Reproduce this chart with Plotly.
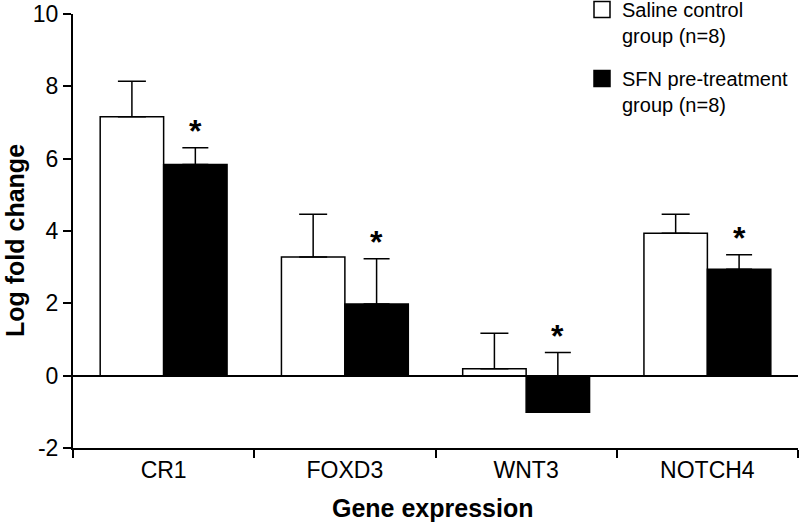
import plotly.graph_objects as go

genes = ["CR1", "FOXD3", "WNT3", "NOTCH4"]
saline_mean = [7.16, 3.28, 0.19, 3.94]
saline_err = [0.98, 1.18, 0.98, 0.52]
sfn_mean = [5.84, 1.98, -1.01, 2.94]
sfn_err = [0.46, 1.25, 1.65, 0.40]
sfn_signif = [True, True, True, True]
y_tickvals = [-2, 0, 2, 4, 6, 8, 10]
y_ticktext = ["-2", "0", "2", "4", "6", "8", "10"]

FONT = "Arial, Liberation Sans, sans-serif"
W, H = 800, 522
ML, MR, MT, MB = 73, 2, 14, 74
PW, PH = W - ML - MR, H - MT - MB

fig = go.Figure()
fig.add_trace(go.Bar(
    x=genes, y=saline_mean, name="Saline control<br>group (n=8)", showlegend=False,
    marker=dict(color="white", line=dict(color="black", width=1.5)),
    error_y=dict(type="data", array=saline_err, arrayminus=[0]*4, symmetric=False,
                 color="black", thickness=1.5, width=14),
))
fig.add_trace(go.Bar(
    x=genes, y=sfn_mean, name="SFN pre-treatment<br>group (n=8)", showlegend=False,
    marker=dict(color="black", line=dict(color="black", width=1.5)),
    error_y=dict(type="data", array=sfn_err, arrayminus=[0]*4, symmetric=False,
                 color="black", thickness=1.5, width=13),
))
# legend entries
fig.add_trace(go.Scatter(x=[None], y=[None], mode="markers", name="Saline control<br>group (n=8)",
                         legendgroup="a",
                         marker=dict(symbol="square", size=16, color="white", line=dict(color="black", width=1.5))))
fig.add_trace(go.Scatter(x=[None], y=[None], mode="markers", name="SFN pre-treatment<br>group (n=8)",
                         legendgroup="b",
                         marker=dict(symbol="square", size=16, color="black", line=dict(color="black", width=1.5))))

bar_px = PW / 4 * 0.7 / 2
for g, m, e, s in zip(genes, sfn_mean, sfn_err, sfn_signif):
    if s:
        fig.add_annotation(x=g, y=m + e, xref="x", yref="y", text="<b>*</b>", showarrow=False,
                           xshift=bar_px / 2, yshift=-3, yanchor="bottom",
                           font=dict(size=32, color="black", family=FONT))

# axis titles
fig.add_annotation(x=(15 - ML) / PW, y=(H - MB - 241) / PH, xref="paper", yref="paper",
                   text="<b>Log fold change</b>", showarrow=False, textangle=-90,
                   xanchor="center", yanchor="middle",
                   font=dict(size=25, color="black", family=FONT))
fig.add_annotation(x=(432 - ML) / PW, y=(H - MB - 508) / PH, xref="paper", yref="paper",
                   text="<b>Gene expression</b>", showarrow=False, xanchor="center", yanchor="middle",
                   font=dict(size=25, color="black", family=FONT))

fig.update_layout(
    width=W, height=H,
    margin=dict(l=ML, r=MR, t=MT, b=MB, autoexpand=False),
    paper_bgcolor="white", plot_bgcolor="white",
    font=dict(family=FONT, size=23, color="black"),
    barmode="group", bargap=0.3, bargroupgap=0,
    showlegend=True,
    legend=dict(x=(582 - ML) / PW, y=1 + (MT + 10) / PH, xanchor="left", yanchor="top",
                valign="top", font=dict(size=20, family=FONT, color="black"),
                bgcolor="rgba(0,0,0,0)", tracegroupgap=14, itemsizing="trace"),
)
fig.update_xaxes(
    showline=True, linecolor="black", linewidth=2, ticks="outside", tickson="boundaries",
    ticklen=8, tickwidth=2, tickcolor="black", showgrid=False, range=[-0.5, 3.5],
    automargin=False, tickfont=dict(size=23),
)
fig.update_yaxes(
    showline=True, linecolor="black", linewidth=2, ticks="outside", ticklen=8, tickwidth=2,
    tickcolor="black", showgrid=False, range=[-2, 10],
    tickmode="array", tickvals=y_tickvals, ticktext=y_ticktext,
    zeroline=True, zerolinecolor="black", zerolinewidth=2,
    automargin=False, tickfont=dict(size=23),
)
fig.write_html("out.html", config={"displayModeBar": False},
               post_script="document.body.style.margin='0';document.body.style.overflow='hidden';")
